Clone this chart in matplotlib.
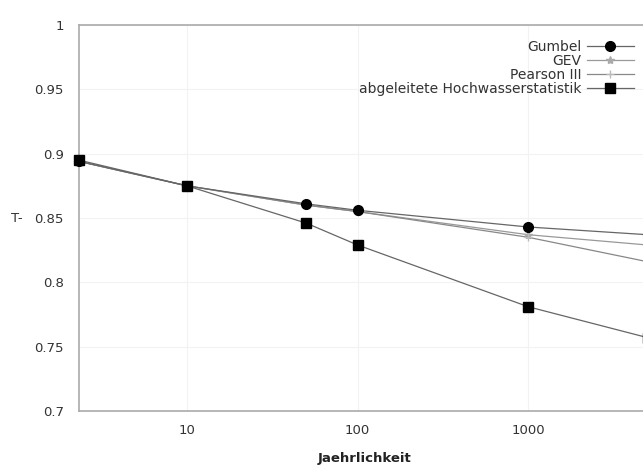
import matplotlib
matplotlib.use("Agg")
from matplotlib import pyplot as plt

# Jaehrlichkeit (return period) and ratio values
jaehrlichkeit = [2.33, 10, 50, 100, 1000, 5000]
gumbel = [0.894, 0.875, 0.861, 0.856, 0.843, 0.837]
gev = [0.894, 0.875, 0.860, 0.855, 0.837, 0.829]
pearson = [0.894, 0.875, 0.860, 0.855, 0.835, 0.816]
hw_statistik = [0.895, 0.875, 0.846, 0.829, 0.781, 0.757]

y_ticks = [0.7, 0.75, 0.8, 0.85, 0.9, 0.95, 1.0]
y_labels = ["0.7", "0.75", "0.8", "0.85", "0.9", "0.95", "1"]
x_ticks = [10, 100, 1000]
x_labels = ["10", "100", "1000"]

plt.rcParams["font.family"] = ["DejaVu Sans"]

fig = plt.figure(figsize=(6.43, 4.68), dpi=100)
# axes run past the right edge of the picture (the original is cropped)
ax = fig.add_axes([79 / 643, 57 / 468, 620 / 643, 386 / 468])

ax.plot(jaehrlichkeit, gumbel, color="#666666", lw=0.9, marker="o", ms=7,
        mfc="black", mec="black", label="Gumbel", clip_on=False, zorder=4)
ax.plot(jaehrlichkeit, gev, color="#999999", lw=0.9, marker="*", ms=6,
        mfc="#aaaaaa", mec="#aaaaaa", label="GEV", clip_on=False, zorder=3)
ax.plot(jaehrlichkeit, pearson, color="#888888", lw=0.9, marker="+", ms=6,
        mec="#bbbbbb", label="Pearson III", clip_on=False, zorder=3)
ax.plot(jaehrlichkeit, hw_statistik, color="#666666", lw=0.9, marker="s", ms=7,
        mfc="black", mec="black", label="abgeleitete Hochwasserstatistik",
        clip_on=False, zorder=4)

ax.set_xscale("log")
ax.set_xlim(2.33, 10000)
ax.set_ylim(0.7, 1.0)
ax.set_xticks(x_ticks)
ax.set_xticklabels(x_labels)
ax.minorticks_off()
ax.set_yticks(y_ticks)
ax.set_yticklabels(y_labels)
ax.tick_params(length=0, labelsize=9.5, colors="#333333", pad=11)
ax.tick_params(axis="x", pad=9)
ax.grid(True, color="#f2f2f2", lw=0.8)
for side in ["left", "bottom", "top"]:
    ax.spines[side].set_color("#aaaaaa")
    ax.spines[side].set_linewidth(1.2)
ax.spines["right"].set_visible(False)

ax.set_xlabel("Jaehrlichkeit", fontsize=9.5, color="#222222", fontweight="bold")
ax.xaxis.set_label_coords(0.46, -0.105)
fig.text(11 / 643, 1 - 218 / 468, "T-", fontsize=9.5, color="#333333",
         va="center", ha="left")

leg = ax.legend(loc="upper right", bbox_to_anchor=(641 / 643, 1 - 33 / 468),
                bbox_transform=fig.transFigure, markerfirst=False, frameon=False,
                fontsize=10, handlelength=3.4, handletextpad=0.4,
                labelspacing=0.0, borderpad=0)
for t in leg.get_texts():
    t.set_color("#333333")

fig.savefig("out.png", dpi=100)
